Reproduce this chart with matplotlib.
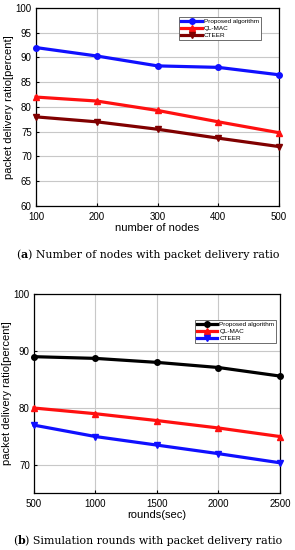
import matplotlib
matplotlib.use("Agg")
from matplotlib import pyplot as plt

# data
nodes = [100, 200, 300, 400, 500]
nodes_proposed = [92.0, 90.3, 88.3, 88.0, 86.5]
nodes_qlmac = [82.0, 81.2, 79.3, 77.0, 74.8]
nodes_cteer = [78.0, 77.0, 75.5, 73.7, 72.0]

rounds = [500, 1000, 1500, 2000, 2500]
rounds_proposed = [89.0, 88.7, 88.0, 87.1, 85.6]
rounds_qlmac = [80.0, 79.0, 77.8, 76.5, 75.0]
rounds_cteer = [77.0, 75.0, 73.5, 72.0, 70.4]

labels = ["Proposed algorithm", "QL-MAC", "CTEER"]

plt.rcParams["font.family"] = ["Liberation Sans", "DejaVu Sans"]

fig = plt.figure(figsize=(2.95, 5.5), dpi=100)


def panel(ax, x, series, colors, xlabel, ylim, yticks, legend_box):
    markers = ["o", "^", "v"]
    for y, c, m, lab in zip(series, colors, markers, labels):
        ax.plot(x, y, color=c, marker=m, markersize=4, linewidth=2.3,
                label=lab, clip_on=False, zorder=3)
    ax.set_xlim(x[0], x[-1])
    ax.set_xticks(x)
    ax.set_ylim(*ylim)
    ax.set_yticks(yticks)
    ax.grid(True, color="#c8c8c8", linewidth=0.8)
    ax.tick_params(labelsize=7, length=2, direction="in")
    ax.tick_params(axis="x", pad=4)
    ax.tick_params(axis="y", pad=3)
    ax.set_xlabel(xlabel, fontsize=8, labelpad=1)
    ax.set_ylabel("packet delivery ratio[percent]", fontsize=8, labelpad=1)
    for s in ax.spines.values():
        s.set_linewidth(0.9)
    leg = ax.legend(loc="upper left", bbox_to_anchor=legend_box, fontsize=4.6,
                    handlelength=3.2, handletextpad=0.3, borderpad=0.3,
                    labelspacing=0.25, fancybox=False, framealpha=1,
                    borderaxespad=0)
    leg.get_frame().set_edgecolor("#555555")
    leg.get_frame().set_linewidth(0.6)


def caption(y, letter, rest, size=7.9):
    # caption as three pieces so the letter can be bold, centred as a whole
    r = fig.canvas.get_renderer()
    probe = fig.text(0.5, y, "(" + letter + ") " + rest, fontsize=size,
                     family="DejaVu Serif", ha="center", va="baseline")
    x0 = probe.get_window_extent(r).x0
    probe.remove()
    p1 = fig.text(x0 / fig.bbox.width, y, "(", fontsize=size,
                  family="DejaVu Serif", va="baseline")
    e1 = p1.get_window_extent(r)
    p2 = fig.text(e1.x1 / fig.bbox.width, y, letter, fontsize=size,
                  family="DejaVu Serif", weight="bold", va="baseline")
    e2 = p2.get_window_extent(r)
    fig.text(e2.x1 / fig.bbox.width, y, ") " + rest, fontsize=size,
             family="DejaVu Serif", va="baseline")


ax1 = fig.add_axes([0.122, 0.6255, 0.824, 0.36])
panel(ax1, nodes, [nodes_proposed, nodes_qlmac, nodes_cteer],
      ["#1010ff", "#ff1010", "#800000"], "number of nodes",
      (60, 100), list(range(60, 101, 5)), (0.59, 0.955))

ax2 = fig.add_axes([0.115, 0.1036, 0.834, 0.362])
panel(ax2, rounds, [rounds_proposed, rounds_qlmac, rounds_cteer],
      ["#000000", "#ff1010", "#1010ff"], "rounds(sec)",
      (65.1, 100), [70, 80, 90, 100], (0.655, 0.87))

caption(1 - 258 / 550, "a", "Number of nodes with packet delivery ratio")
caption(1 - 544 / 550, "b", "Simulation rounds with packet delivery ratio")

fig.savefig("out.png", dpi=100)
